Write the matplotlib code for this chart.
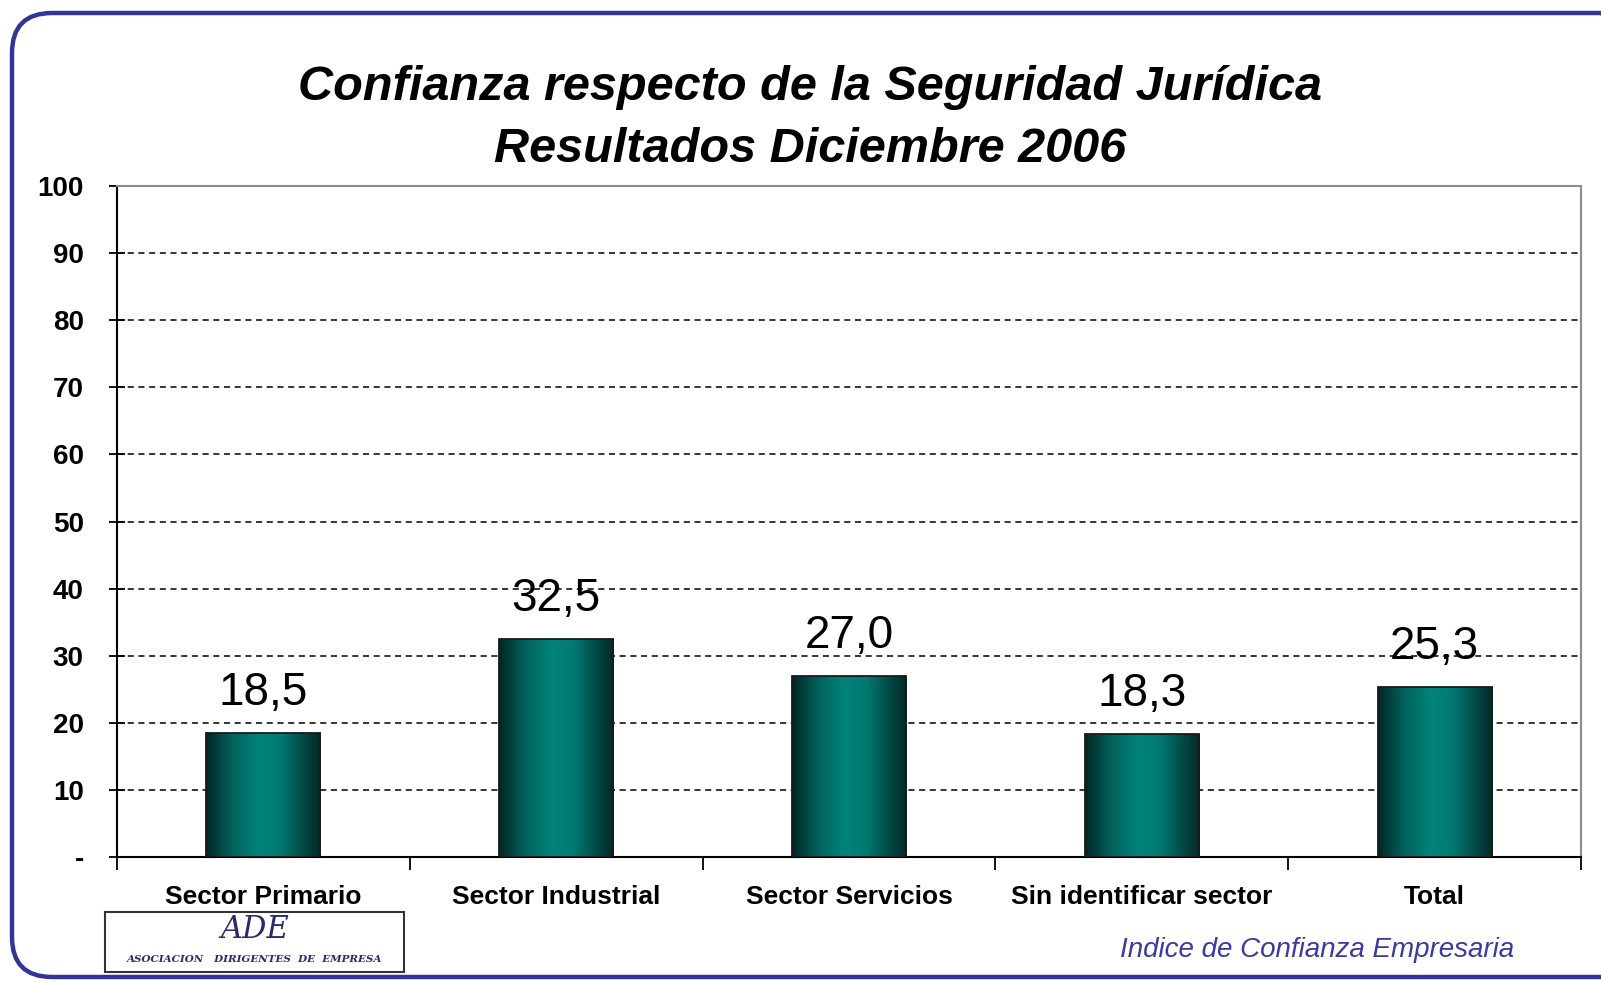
import matplotlib
matplotlib.use("Agg")
import matplotlib.pyplot as plt
import numpy as np
from matplotlib.colors import LinearSegmentedColormap
from matplotlib.patches import FancyBboxPatch, Rectangle

# data
categories = ["Sector Primario", "Sector Industrial", "Sector Servicios",
              "Sin identificar sector", "Total"]
values = [18.5, 32.5, 27.0, 18.3, 25.3]
value_labels = ["18,5", "32,5", "27,0", "18,3", "25,3"]
yticks = [0, 10, 20, 30, 40, 50, 60, 70, 80, 90, 100]
ytick_labels = ["-", "10", "20", "30", "40", "50", "60", "70", "80", "90", "100"]

plt.rcParams['font.family'] = ['Liberation Sans', 'DejaVu Sans']

fig = plt.figure(figsize=(16.01, 9.83), dpi=100)
ax = fig.add_axes([117/1601, 1-857/983, (1581-117)/1601, (857-186)/983])

# rounded blue frame round the whole chart (right side runs off the image)
frame = FancyBboxPatch((12/1601, 6/983), 1628/1601, 964/983,
                       boxstyle="round,pad=0,rounding_size=0.025",
                       transform=fig.transFigure, fill=False,
                       edgecolor="#333399", linewidth=3.2, clip_on=False,
                       mutation_aspect=1601/983)
fig.patches.append(frame)

x = np.arange(len(categories))
bars = ax.bar(x, values, width=0.39, color="none", edgecolor="#1a1a1a",
              linewidth=1.3, zorder=4)

# gradient fill for each bar (dark edges, teal centre)
cmap = LinearSegmentedColormap.from_list(
    "teal", [(0, "#012624"), (0.22, "#03605a"), (0.45, "#00837a"),
             (0.65, "#007a71"), (0.85, "#024a45"), (1, "#012826")])
grad = np.linspace(0, 1, 256).reshape(1, -1)
for b in bars:
    im = ax.imshow(grad, cmap=cmap, aspect='auto', zorder=3,
                   extent=[b.get_x(), b.get_x() + b.get_width(), 0, b.get_height()])
    im.set_clip_path(b)

for xi, v, lab in zip(x, values, value_labels):
    ax.annotate(lab, (xi, v), xytext=(0, 29), textcoords="offset points",
                ha="center", va="center", fontsize=33, color="black", zorder=5)

ax.set_xlim(-0.5, len(categories) - 0.5)
ax.set_ylim(0, 100)

ax.set_yticks(yticks)
ax.set_yticklabels(ytick_labels, fontsize=20, fontweight="bold")
ax.tick_params(axis="y", direction="inout", length=12, width=1.3, pad=18, colors="black")

ax.set_xticks(x)
ax.set_xticklabels(categories, fontsize=19, fontweight="bold")
ax.tick_params(axis="x", length=0, pad=20)
ax.set_xticks(np.arange(-0.5, len(categories)), minor=True)
ax.tick_params(axis="x", which="minor", direction="out", length=9, width=1.3)

for yv in yticks[1:-1]:
    ax.axhline(yv, color="black", linewidth=1.1, linestyle=(0, (4, 3)), zorder=1)

ax.spines["left"].set_color("black")
ax.spines["left"].set_linewidth(1.5)
ax.spines["bottom"].set_color("black")
ax.spines["bottom"].set_linewidth(1.5)
ax.spines["top"].set_color("#8c8c8c")
ax.spines["top"].set_linewidth(1.5)
ax.spines["right"].set_color("#8c8c8c")
ax.spines["right"].set_linewidth(1.5)

fig.text(810/1601, 1-88/983, "Confianza respecto de la Seguridad Jurídica",
         ha="center", va="center", fontsize=35, fontweight="bold", style="italic")
fig.text(810/1601, 1-149/983, "Resultados Diciembre 2006",
         ha="center", va="center", fontsize=35, fontweight="bold", style="italic")

fig.text(1317/1601, 1-950/983, "Indice de Confianza Empresaria",
         ha="center", va="center", fontsize=20, style="italic", color="#3a3aa0")

# logo box
logo = Rectangle((105/1601, 1-972/983), 299/1601, 60/983, transform=fig.transFigure,
                 facecolor="white", edgecolor="#333333", linewidth=1.5)
fig.patches.append(logo)
fig.text(255/1601, 1-930/983, "ADE", ha="center", va="center", fontsize=22,
         family="DejaVu Serif", style="italic", color="#2a2a6e")
fig.text(255/1601, 1-960/983, "ASOCIACION   DIRIGENTES  DE  EMPRESA", ha="center",
         va="center", fontsize=7.5, family="DejaVu Serif", style="italic",
         fontweight="bold", color="#2a2a6e")

fig.savefig("out.png", dpi=100, facecolor="white")
